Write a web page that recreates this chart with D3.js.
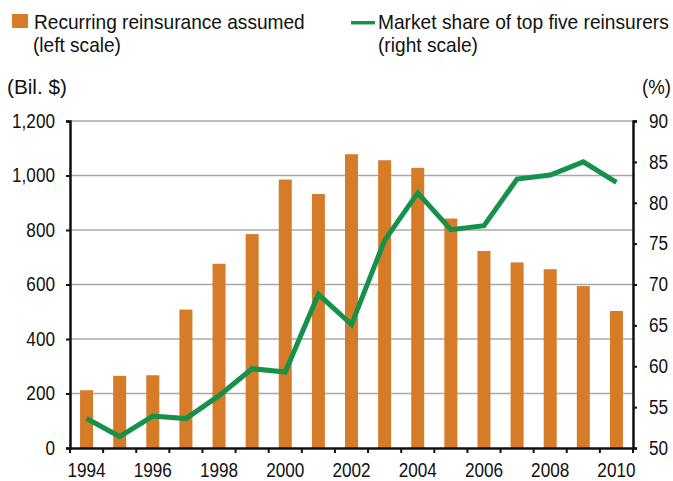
<!DOCTYPE html>
<html>
<head>
<meta charset="utf-8">
<script src="https://cdn.jsdelivr.net/npm/d3@7"></script>
<style>
  body { margin: 0; background: #fff; }
  text { font-family: "Liberation Sans", Arial, sans-serif; fill: #111; }
</style>
</head>
<body>
<div id="chart"></div>
<script>
// data
var years = ["1994","1995","1996","1997","1998","1999","2000","2001","2002","2003","2004","2005","2006","2007","2008","2009","2010"];
var reinsurance = [212, 265, 267, 508, 676, 785, 985, 932, 1078, 1056, 1028, 842, 723, 681, 656, 594, 503];
var marketShare = [53.6, 51.4, 53.9, 53.6, 56.4, 59.7, 59.3, 68.8, 65.1, 75.4, 81.2, 76.7, 77.2, 82.9, 83.4, 85.0, 82.5];
var leftTicks = [0, 200, 400, 600, 800, 1000, 1200];
var rightTicks = [50, 55, 60, 65, 70, 75, 80, 85, 90];
var yearLabels = ["1994","1996","1998","2000","2002","2004","2006","2008","2010"];

var width = 673, height = 481;
var margin = { top: 121, right: 40, bottom: 33, left: 70 };
var innerW = width - margin.left - margin.right,
  innerH = height - margin.top - margin.bottom;

var orange = "#d67c29", green = "#15914a";

var svg = d3.select("#chart").append("svg")
  .attr("width", width)
  .attr("height", height);

// condensed look: squeeze each text horizontally
function squeeze(sel, k) {
  sel.each(function () {
    var w = this.getComputedTextLength();
    d3.select(this).attr("textLength", w * k).attr("lengthAdjust", "spacingAndGlyphs");
  });
}

// text scaled to a given width with a transform
function label(x, y, str, w) {
  var gg = svg.append("g");
  var t = gg.append("text").style("font-size", "20px").text(str);
  var k = w / t.node().getComputedTextLength();
  gg.attr("transform", `translate(${x},${y}) scale(${k},1)`);
  return t;
}

var g = svg.append("g").attr("transform", `translate(${margin.left},${margin.top})`);

var xb = d3.scaleBand().domain(years).range([0, innerW]);
var yL = d3.scaleLinear().domain([0, 1200]).range([innerH, 0]);
var yR = d3.scaleLinear().domain([50, 90]).range([innerH, 0]);

// gridlines
g.append("g").selectAll("line")
  .data(leftTicks.slice(1))
  .enter().append("line")
  .attr("x1", 0).attr("x2", innerW)
  .attr("y1", d => yL(d)).attr("y2", d => yL(d))
  .attr("stroke", "#a8a8a8").attr("stroke-width", 1.5);

// bars
g.append("g").selectAll("rect")
  .data(reinsurance)
  .enter().append("rect")
  .attr("x", (d, i) => xb(years[i]) + xb.bandwidth() / 2 - 6.5)
  .attr("width", 13)
  .attr("y", d => yL(d))
  .attr("height", d => innerH - yL(d))
  .attr("fill", orange);

// line
var line = d3.line()
  .x((d, i) => xb(years[i]) + xb.bandwidth() / 2)
  .y(d => yR(d));

g.append("path")
  .datum(marketShare)
  .attr("d", line)
  .attr("fill", "none")
  .attr("stroke", green)
  .attr("stroke-width", 5)
  .attr("stroke-linejoin", "miter");

// axes
var leftAxis = g.append("g")
  .call(d3.axisLeft(yL).tickValues(leftTicks).tickSize(4).tickPadding(11).tickFormat(d3.format(",")));
var rightAxis = g.append("g")
  .attr("transform", `translate(${innerW},0)`)
  .call(d3.axisRight(yR).tickValues(rightTicks).tickSize(4).tickPadding(12));
var bottomAxis = g.append("g")
  .attr("transform", `translate(0,${innerH})`)
  .call(d3.axisBottom(xb).tickValues([]).tickSizeOuter(0));

// ticks sit on the band edges
bottomAxis.selectAll("line.bt")
  .data(years.concat(["end"]))
  .enter().append("line")
  .attr("class", "bt")
  .attr("x1", (d, i) => i * xb.bandwidth()).attr("x2", (d, i) => i * xb.bandwidth())
  .attr("y1", 0).attr("y2", 5)
  .attr("stroke", "#111").attr("stroke-width", 2);

bottomAxis.selectAll("text.yl")
  .data(yearLabels)
  .enter().append("text")
  .attr("class", "yl")
  .attr("x", d => xb(d) + xb.bandwidth() / 2)
  .attr("y", 28.5)
  .attr("text-anchor", "middle")
  .style("font-size", "19.5px")
  .text(d => d);

[leftAxis, rightAxis, bottomAxis].forEach(function (a) {
  a.selectAll(".domain").attr("stroke", "#111").attr("stroke-width", 2.5);
  a.selectAll(".tick line").attr("stroke", "#111").attr("stroke-width", 2);
  a.selectAll(".tick text").style("font-size", "19.5px").attr("fill", "#111")
    .attr("font-family", null);
});
squeeze(svg.selectAll(".tick text, text.yl"), 0.88);

// axis titles
label(7, 94, "(Bil. $)", 60);
label(642, 94, "(%)", 29);

// legend
svg.append("rect").attr("x", 12).attr("y", 14).attr("width", 16).attr("height", 14).attr("fill", orange);
label(34, 29, "Recurring reinsurance assumed", 271);
label(33, 52, "(left scale)", 88);
svg.append("line").attr("x1", 351).attr("x2", 375).attr("y1", 22.7).attr("y2", 22.7)
  .attr("stroke", green).attr("stroke-width", 3.5);
label(378, 29, "Market share of top five reinsurers", 291);
label(378, 52, "(right scale)", 100);
</script>
</body>
</html>
